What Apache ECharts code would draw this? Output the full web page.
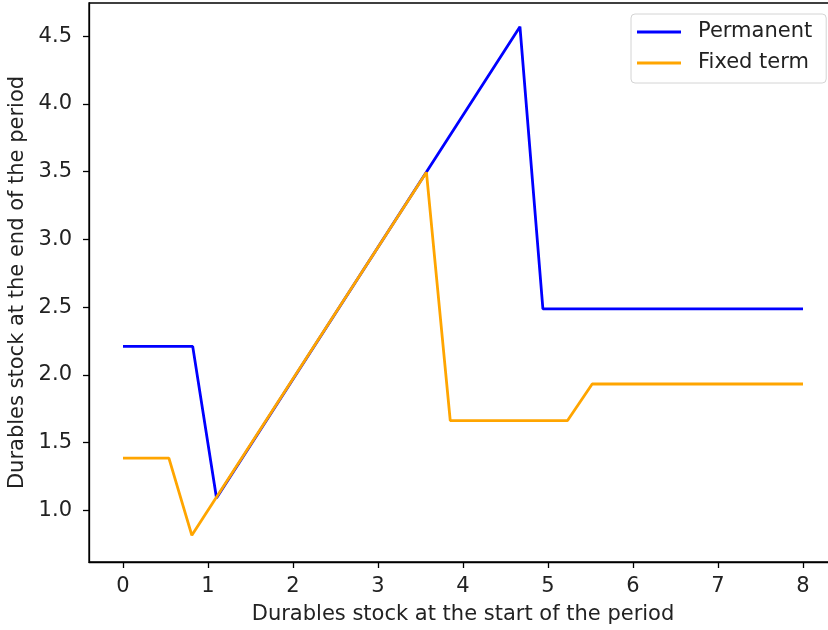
<!DOCTYPE html>
<html>
<head>
<meta charset="utf-8">
<script src="https://cdn.jsdelivr.net/npm/echarts@6/dist/echarts.min.js"></script>
<style>html,body{margin:0;padding:0;background:#fff}#c{width:828px;height:630px}</style>
</head>
<body>
<div id="c"></div>
<script>
var seriesNames = ['Permanent', 'Fixed term'];
var permX = [0, 0.82, 1.10, 4.67, 4.94, 8];
var permY = [2.21, 2.21, 1.09, 4.57, 2.487, 2.487];
var fixedX = [0, 0.54, 0.81, 3.57, 3.85, 5.23, 5.52, 8];
var fixedY = [1.385, 1.385, 0.815, 3.495, 1.662, 1.662, 1.932, 1.932];
var xTicks = [0, 1, 2, 3, 4, 5, 6, 7, 8];
var yTicks = [1.0, 1.5, 2.0, 2.5, 3.0, 3.5, 4.0, 4.5];

function pairs(xs, ys) { return xs.map(function (x, i) { return [x, ys[i]]; }); }

var font = 'DejaVu Sans';
var fs = 21;
var linePath = 'path://M0,0 L44,0 L44,3 L0,3 Z';
var chart = echarts.init(document.getElementById('c'), null, {renderer: 'canvas'});
chart.setOption({
  animation: false,
  backgroundColor: '#fff',
  textStyle: {fontFamily: font},
  grid: {left: 89, top: 3, right: -9, bottom: 68, show: true, borderColor: '#000', borderWidth: 1.3,
         containLabel: false, outerBoundsMode: 'none'},
  legend: {
    orient: 'vertical', left: 631, top: 14,
    data: [{name: seriesNames[0], icon: linePath}, {name: seriesNames[1], icon: linePath}],
    itemWidth: 44, itemHeight: 3, itemGap: 9,
    padding: [7, 14, 9, 6],
    backgroundColor: '#fff', borderColor: '#d4d4d4', borderWidth: 1, borderRadius: 4,
    textStyle: {fontFamily: font, fontSize: fs, color: '#222', lineHeight: 22, padding: [0, 0, 0, 12]}
  },
  xAxis: {
    type: 'value', min: -0.4, max: 8.4,
    name: 'Durables stock at the start of the period', nameLocation: 'middle', nameGap: 42,
    nameTextStyle: {fontFamily: font, fontSize: fs, color: '#222'},
    axisLine: {show: true, onZero: false, lineStyle: {color: '#000', width: 1.3}},
    axisTick: {show: true, length: 6, customValues: xTicks, lineStyle: {color: '#000', width: 1.3}},
    axisLabel: {customValues: xTicks, margin: 14, fontFamily: font, fontSize: fs, color: '#222'},
    splitLine: {show: false}
  },
  yAxis: {
    type: 'value', min: 0.618, max: 4.745,
    name: 'Durables stock at the end of the period', nameLocation: 'middle', nameGap: 56, nameRotate: 90,
    nameTextStyle: {fontFamily: font, fontSize: fs, color: '#222'},
    axisLine: {show: true, onZero: false, lineStyle: {color: '#000', width: 1.3}},
    axisTick: {show: true, length: 6, customValues: yTicks, lineStyle: {color: '#000', width: 1.3}},
    axisLabel: {customValues: yTicks, margin: 17, fontFamily: font, fontSize: fs, color: '#222',
      formatter: function (v) { return v.toFixed(1); }},
    splitLine: {show: false}
  },
  series: [
    {name: seriesNames[0], type: 'line', data: pairs(permX, permY), symbol: 'none',
     lineStyle: {color: '#0000ff', width: 2.8}, itemStyle: {color: '#0000ff'}},
    {name: seriesNames[1], type: 'line', data: pairs(fixedX, fixedY), symbol: 'none',
     lineStyle: {color: '#ffa500', width: 2.8}, itemStyle: {color: '#ffa500'}}
  ]
});
</script>
</body>
</html>
